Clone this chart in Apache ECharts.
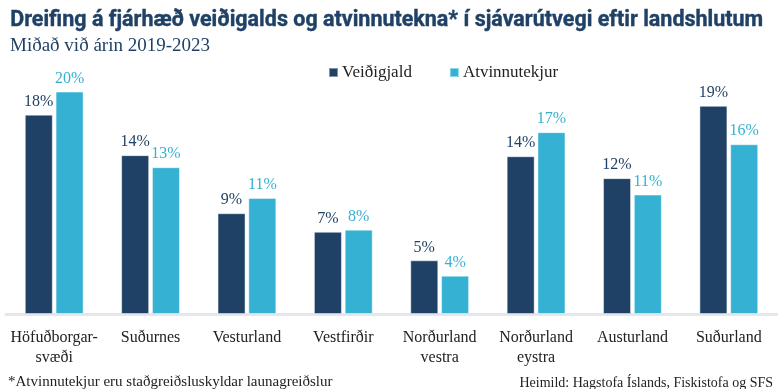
<!DOCTYPE html>
<html>
<head>
<meta charset="utf-8">
<script src="https://cdn.jsdelivr.net/npm/echarts@6/dist/echarts.min.js"></script>
<style>
html,body{margin:0;padding:0;background:#fff;}
#chart{width:778px;height:389px;}
</style>
</head>
<body>
<div id="chart"></div>
<script>
const categories = ['Höfuðborgar-\nsvæði','Suðurnes','Vesturland','Vestfirðir','Norðurland\nvestra','Norðurland\neystra','Austurland','Suðurland'];
const seriesNames = ['Veiðigjald','Atvinnutekjur'];
const veidigjald = [18.2, 14.5, 9.2, 7.5, 4.9, 14.4, 12.4, 19.0];
const atvinnutekjur = [20.3, 13.4, 10.6, 7.7, 3.5, 16.6, 10.9, 15.5];
const veidigjaldLabels = ['18%','14%','9%','7%','5%','14%','12%','19%'];
const atvinnutekjurLabels = ['20%','13%','11%','8%','4%','17%','11%','16%'];
const titleText = 'Dreifing á fjárhæð veiðigalds og atvinnutekna* í sjávarútvegi eftir landshlutum';
const subtitleText = 'Miðað við árin 2019-2023';
const footLeft = '*Atvinnutekjur eru staðgreiðsluskyldar launagreiðslur';
const footRight = 'Heimild: Hagstofa Íslands, Fiskistofa og SFS';

const DARK = '#1f4166';
const LIGHT = '#35b2d3';
const SERIF = '"Liberation Serif", "DejaVu Serif", serif';

const cv = document.createElement('canvas').getContext('2d');
cv.font = 'bold 22px Roboto';
const tw = cv.measureText(titleText).width;
const titleScale = 753 / tw;

const chart = echarts.init(document.getElementById('chart'), null, {renderer:'canvas'});
chart.setOption({
  backgroundColor: '#fff',
  animation: false,
  graphic: [
    {type:'text', left: 10, top: 9, scaleX: titleScale, originX: 0,
     style:{text: titleText, font: 'bold 22px Roboto', fill: DARK, stroke: DARK, lineWidth: 0.4}},
    {type:'text', left: 10, top: 37,
     style:{text: subtitleText, font: '19px ' + SERIF, fill: DARK}},
    {type:'text', left: 8, top: 375,
     style:{text: footLeft, font: '15px ' + SERIF, fill: '#222'}},
    {type:'text', right: 5, top: 376,
     style:{text: footRight, font: '14px ' + SERIF, fill: '#222'}}
  ],
  legend: {
    data: seriesNames,
    left: 323, top: 59,
    icon: 'rect', itemWidth: 9, itemHeight: 9, itemGap: 37,
    textStyle: {fontFamily: SERIF, fontSize: 17, color: '#222', padding:[0,0,0,-1]}
  },
  grid: {left: 6, right: 1, top: 73, bottom: 75},
  xAxis: {
    type: 'category', data: categories,
    axisLine: {show: true, lineStyle: {color: '#e4e7ec', width: 3}},
    axisTick: {show: false},
    axisLabel: {fontFamily: SERIF, fontSize: 16, color: '#222', margin: 14, lineHeight: 20, interval: 0}
  },
  yAxis: {type: 'value', min: 0, max: 22, show: false, splitLine: {show: false}},
  series: [
    {name: seriesNames[0], type: 'bar', data: veidigjald, barWidth: 28, barGap: '10%',
     itemStyle: {color: DARK, borderColor: 'rgba(255,255,255,0.45)', borderWidth: 1},
     label: {show: true, position: 'top', distance: 5, fontFamily: SERIF, fontSize: 16, color: DARK,
       formatter: p => veidigjaldLabels[p.dataIndex]}},
    {name: seriesNames[1], type: 'bar', data: atvinnutekjur, barWidth: 28, barGap: '10%',
     itemStyle: {color: LIGHT, borderColor: 'rgba(255,255,255,0.45)', borderWidth: 1},
     label: {show: true, position: 'top', distance: 5, fontFamily: SERIF, fontSize: 16, color: LIGHT,
       formatter: p => atvinnutekjurLabels[p.dataIndex]}}
  ]
});
</script>
</body>
</html>
